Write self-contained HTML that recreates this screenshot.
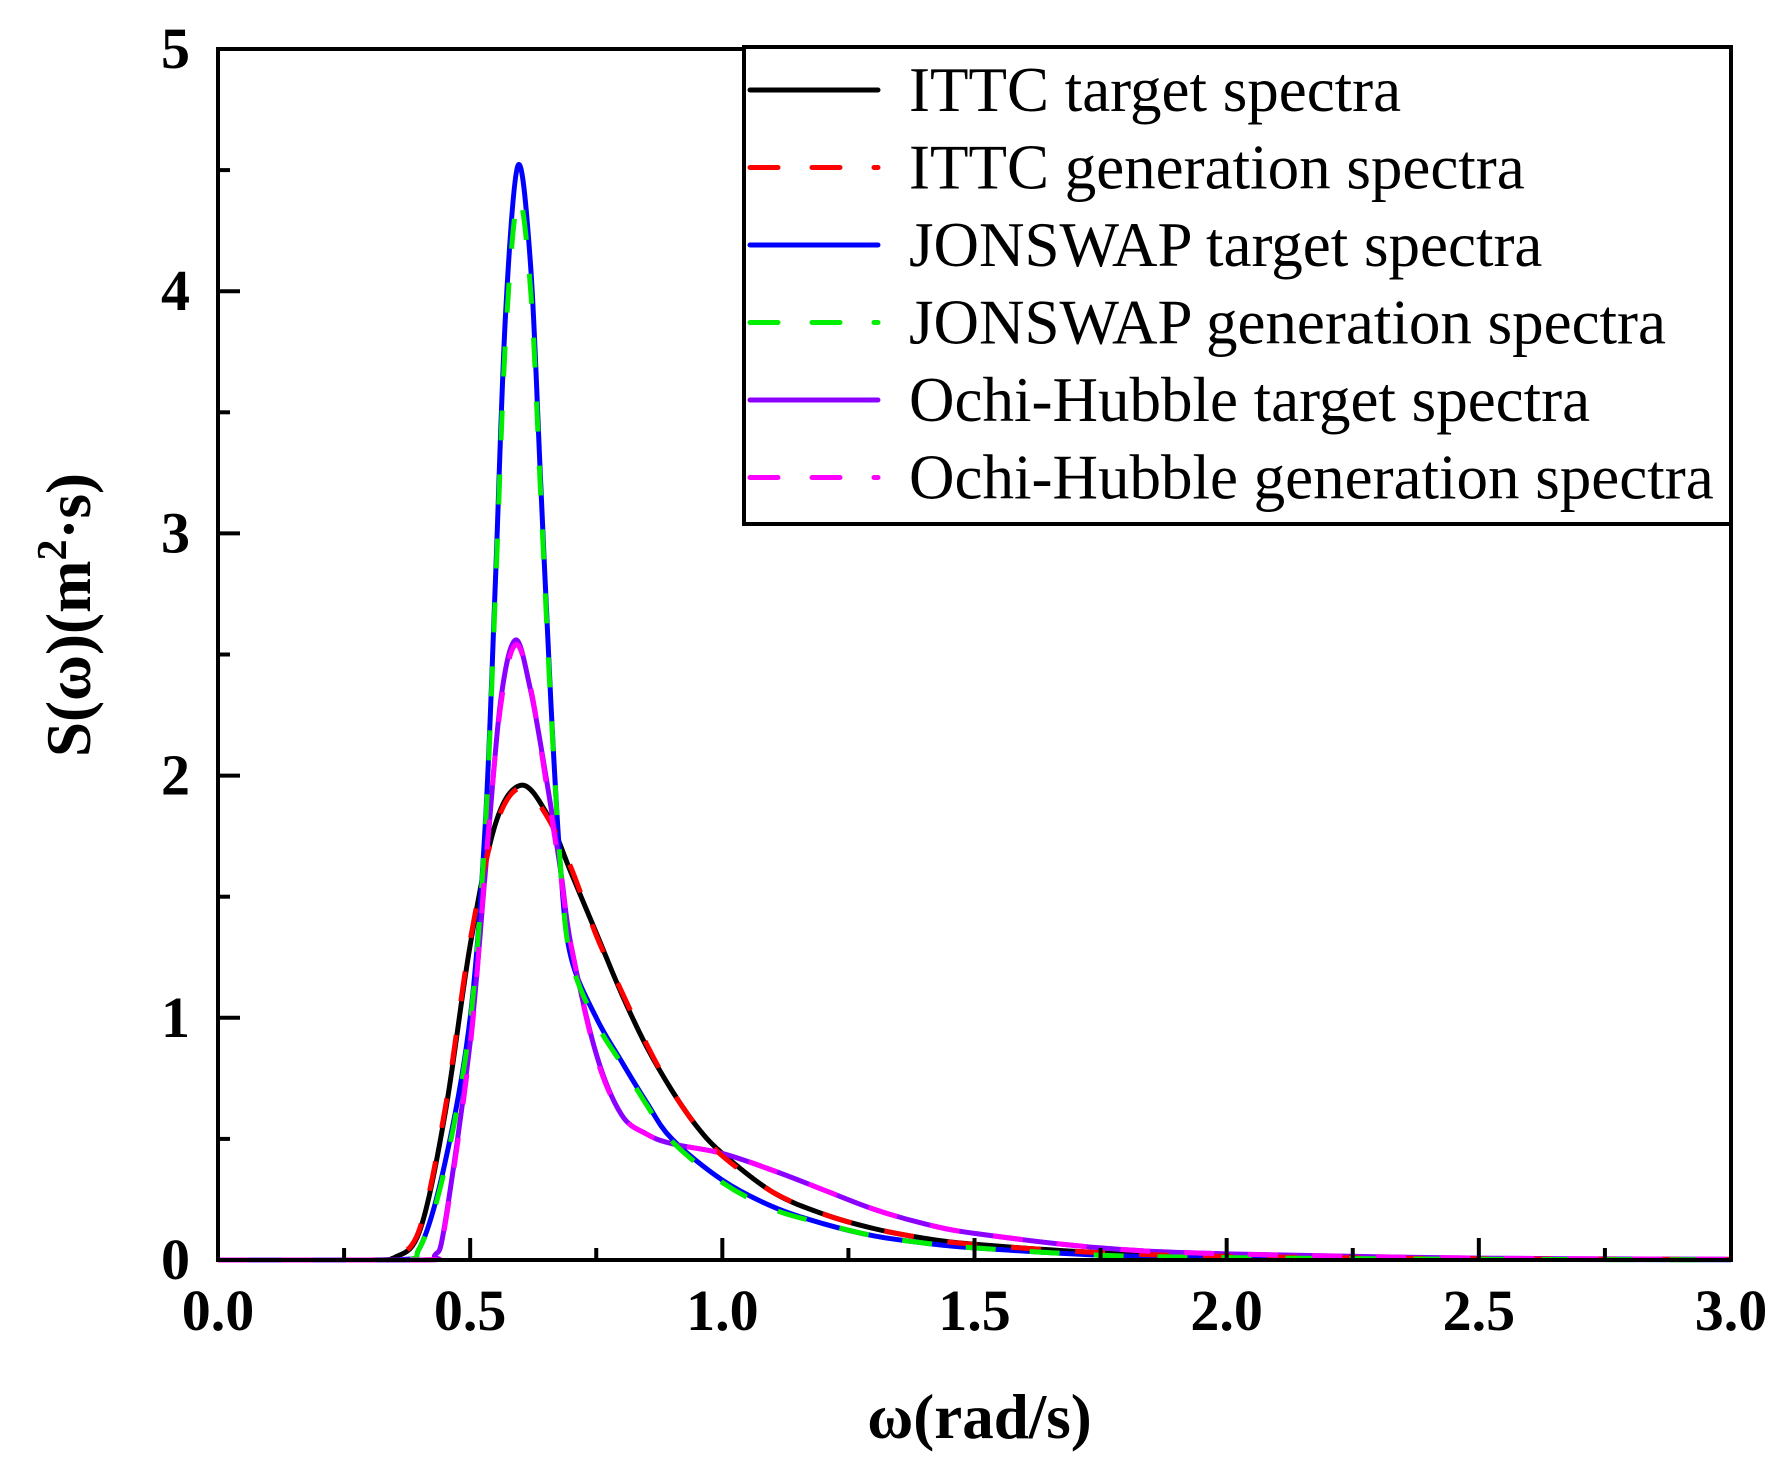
<!DOCTYPE html>
<html><head><meta charset="utf-8"><style>
html,body{margin:0;padding:0;background:#fff;}
svg{display:block;font-family:"Liberation Serif",serif;}
</style></head><body>
<svg id="chart" width="1790" height="1473" viewBox="0 0 1790 1473"></svg>
<script>
const xTicks=["0.0","0.5","1.0","1.5","2.0","2.5","3.0"];
const yTicks=["0","1","2","3","4","5"];
const ittcW=[0,0.3,0.35,0.4,0.45,0.5,0.55,0.6,0.65,0.7,0.75,0.8,0.85,0.9,0.95,1.0,1.1,1.2,1.3,1.4,1.5,1.75,2.0,2.5,3.0];
const ittcT=[0,0,0.01,0.12,0.6,1.3,1.8,1.96,1.85,1.6,1.35,1.1,0.88,0.7,0.55,0.44,0.28,0.19,0.13,0.09,0.065,0.03,0.015,0.005,0.002];
const ittcG=[0,0,0.012,0.13,0.62,1.32,1.79,1.95,1.84,1.62,1.34,1.11,0.89,0.7,0.55,0.43,0.28,0.19,0.13,0.09,0.064,0.03,0.015,0.005,0.002];
const jonW=[0,0.35,0.4,0.45,0.5,0.53,0.55,0.57,0.595,0.62,0.64,0.66,0.68,0.7,0.75,0.8,0.85,0.9,1.0,1.1,1.2,1.3,1.4,1.5,1.75,2.0,2.5,3.0];
const jonT=[0,0,0.05,0.4,1.0,1.8,2.8,3.9,4.52,4.1,3.2,2.3,1.6,1.25,1.0,0.82,0.65,0.5,0.33,0.22,0.15,0.1,0.07,0.05,0.02,0.01,0.003,0.001];
const jonG=[0,0,0.05,0.38,0.98,1.78,2.75,3.8,4.38,4.0,3.15,2.28,1.6,1.24,0.98,0.81,0.64,0.49,0.32,0.21,0.15,0.1,0.07,0.05,0.02,0.01,0.003,0.001];
const ohW=[0,0.4,0.43,0.45,0.5,0.53,0.56,0.59,0.62,0.65,0.68,0.7,0.75,0.8,0.85,0.9,1.0,1.1,1.2,1.3,1.4,1.5,1.75,2.0,2.5,3.0];
const ohT=[0,0,0.02,0.15,0.9,1.6,2.3,2.56,2.35,2.0,1.6,1.3,0.85,0.6,0.52,0.48,0.44,0.37,0.29,0.21,0.15,0.11,0.05,0.025,0.008,0.003];
const ohG=[0,0,0.02,0.14,0.88,1.62,2.28,2.54,2.36,1.98,1.58,1.3,0.84,0.6,0.52,0.48,0.44,0.37,0.29,0.21,0.15,0.11,0.05,0.025,0.008,0.003];
const legendLabels=["ITTC target spectra","ITTC generation spectra","JONSWAP target spectra","JONSWAP generation spectra","Ochi-Hubble target spectra","Ochi-Hubble generation spectra"];

const L=218,R=1731,T=49,B=1260;
const sx=v=>L+(v/3)*(R-L);
const sy=v=>B-(v/5)*(B-T);
const NS="http://www.w3.org/2000/svg";
const svg=document.getElementById('chart');
function mk(tag,attrs,parent){const e=document.createElementNS(NS,tag);for(const k in attrs)e.setAttribute(k,attrs[k]);(parent||svg).appendChild(e);return e;}
function pathD(xs,ys){
  const p=xs.map((x,i)=>[sx(x),sy(ys[i])]);
  let d="M"+p[0][0].toFixed(1)+","+p[0][1].toFixed(1);
  for(let i=0;i<p.length-1;i++){
    const p0=p[Math.max(0,i-1)],p1=p[i],p2=p[i+1],p3=p[Math.min(p.length-1,i+2)];
    const c1=[p1[0]+(p2[0]-p0[0])/6,p1[1]+(p2[1]-p0[1])/6];
    const c2=[p2[0]-(p3[0]-p1[0])/6,p2[1]-(p3[1]-p1[1])/6];
    c1[1]=Math.min(c1[1],B);c2[1]=Math.min(c2[1],B);
    d+=" C"+c1[0].toFixed(1)+","+c1[1].toFixed(1)+" "+c2[0].toFixed(1)+","+c2[1].toFixed(1)+" "+p2[0].toFixed(1)+","+p2[1].toFixed(1);
  }
  return d;
}
const series=[
 {w:ittcW,v:ittcT,c:"#000000",dash:null,n:"ittc-target-line"},
 {w:jonW,v:jonT,c:"#0000ff",dash:null,n:"jonswap-target-line"},
 {w:ohW,v:ohT,c:"#8b00ff",dash:null,n:"ochi-hubble-target-line"},
 {w:ittcW,v:ittcG,c:"#ff0000",dash:"30,34",n:"ittc-generation-line"},
 {w:jonW,v:jonG,c:"#00ee00",dash:"30,34",n:"jonswap-generation-line"},
 {w:ohW,v:ohG,c:"#ff00ff",dash:"30,34",n:"ochi-hubble-generation-line"}
];
const gS=mk('g',{});


series.forEach(s=>{
  const p=mk('path',{d:pathD(s.w,s.v),fill:"none",stroke:s.c,"stroke-width":5,"stroke-linejoin":"round"},gS);
  if(s.dash)p.setAttribute('stroke-dasharray',s.dash);
  
  
});
const frame=mk('rect',{x:L,y:T,width:R-L,height:B-T,fill:"none",stroke:"#000","stroke-width":4});


xTicks.forEach((t,i)=>{
  const v=i*0.5,x=sx(v);
  const tk=mk('line',{x1:x,y1:B,x2:x,y2:B-22,stroke:"#000","stroke-width":4});
  
  
  const tx=mk('text',{x:x,y:B+70,"text-anchor":"middle","font-size":58,"font-weight":"bold"});
  tx.textContent=t;
  
  
  if(i<xTicks.length-1){
    const xm=sx(v+0.25);
    const mt=mk('line',{x1:xm,y1:B,x2:xm,y2:B-12,stroke:"#000","stroke-width":4});
    
    
  }
});
yTicks.forEach((t,i)=>{
  const y=sy(i);
  const tk=mk('line',{x1:L,y1:y,x2:L+22,y2:y,stroke:"#000","stroke-width":4});
  
  
  const tx=mk('text',{x:L-28,y:y+19,"text-anchor":"end","font-size":58,"font-weight":"bold"});
  tx.textContent=t;
  
  
  if(i<yTicks.length-1){
    const ym=sy(i+0.5);
    const mt=mk('line',{x1:L,y1:ym,x2:L+12,y2:ym,stroke:"#000","stroke-width":4});
    
    
  }
});
const xt=mk('text',{x:(L+R)/2+5,y:1438,"text-anchor":"middle","font-size":63,"font-weight":"bold"});
xt.textContent="ω(rad/s)";


const yt=mk('text',{x:0,y:0,"text-anchor":"middle","font-size":63,"font-weight":"bold",transform:"translate(90,615) rotate(-90)"});
yt.innerHTML='S(ω)(m<tspan dy="-24" font-size="42">2</tspan><tspan dy="24">·s)</tspan>';


const lg=mk('g',{});


const lb=mk('rect',{x:744,y:47,width:R-744,height:477,fill:"#fff",stroke:"#000","stroke-width":4},lg);


const legOrder=[0,3,1,4,2,5];
legendLabels.forEach((lab,i)=>{
  const s=series[legOrder[i]],y=90+i*77.5;
  const ln=mk('line',{x1:750,y1:y,x2:878,y2:y,stroke:s.c,"stroke-width":5,"stroke-linecap":"round"},lg);
  if(s.dash)ln.setAttribute('stroke-dasharray',"28,34");
  
  
  const tx=mk('text',{x:909,y:y+21,"font-size":63},lg);
  tx.textContent=lab;
  
  
});
</script>
</body></html>
